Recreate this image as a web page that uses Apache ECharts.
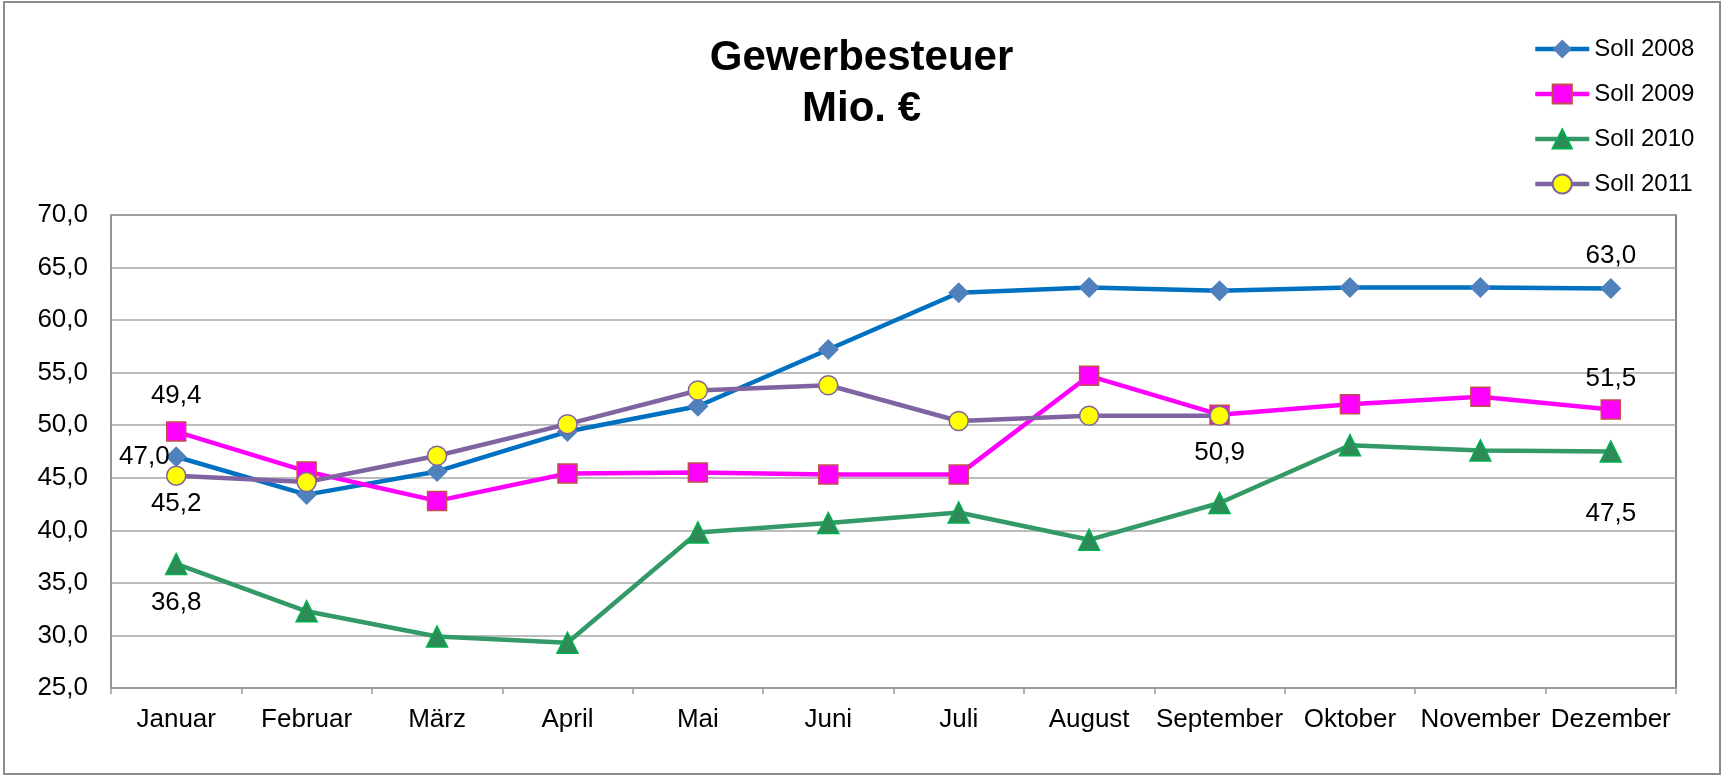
<!DOCTYPE html>
<html>
<head>
<meta charset="utf-8">
<title>Gewerbesteuer</title>
<script src="https://cdn.jsdelivr.net/npm/echarts@6/dist/echarts.min.js"></script>
<style>
  html, body { margin: 0; padding: 0; background: #fff; }
  #main { width: 1723px; height: 778px; }
</style>
</head>
<body>
<div id="main"></div>
<script>
// Monate
var months = ["Januar", "Februar", "März", "April", "Mai", "Juni", "Juli",
  "August", "September", "Oktober", "November", "Dezember"];

// Soll-Werte, Mio. €
var soll2008 = [47.0, 43.4, 45.6, 49.4, 51.8, 57.2, 62.6, 63.1, 62.8, 63.1, 63.1, 63.0];
var soll2009 = [49.4, 45.6, 42.8, 45.4, 45.5, 45.3, 45.3, 54.7, 51.0, 52.0, 52.7, 51.5];
var soll2010 = [36.8, 32.3, 29.9, 29.3, 39.8, 40.7, 41.7, 39.1, 42.6, 48.1, 47.6, 47.5];
var soll2011 = [45.2, 44.6, 47.1, 50.1, 53.3, 53.8, 50.4, 50.9, 50.9, null, null, null];

var yTicks = { min: 25, max: 70, interval: 5 };

var font = "'Liberation Sans', Arial, sans-serif";

function deNum(v) {
  return Number(v).toFixed(1).replace(".", ",");
}

// welche Punkte eine Beschriftung haben (Index -> Lage)
function withLabels(arr, labels) {
  return arr.map(function (v, i) {
    if (labels[i] && v != null) {
      return { value: v, label: Object.assign({ show: true }, labels[i]) };
    }
    return v;
  });
}

var lbl = {
  color: "#000",
  fontSize: 26,
  fontFamily: font,
  formatter: function (p) { return deNum(p.value); }
};

var chart = echarts.init(document.getElementById("main"));

chart.setOption({
  animation: false,
  backgroundColor: "#fff",
  textStyle: { fontFamily: font },
  graphic: [{
    type: "rect",
    shape: { x: 4, y: 2, width: 1716, height: 772 },
    style: { fill: "none", stroke: "#8c8c8c", lineWidth: 2 },
    silent: true
  }],
  title: {
    text: "Gewerbesteuer\nMio. €",
    left: "center",
    top: 28,
    textStyle: {
      fontSize: 42,
      fontWeight: "bold",
      lineHeight: 51,
      color: "#000",
      fontFamily: font
    }
  },
  legend: {
    orient: "vertical",
    left: 1528,
    top: 32,
    itemWidth: 54,
    itemHeight: 24,
    itemGap: 21,
    lineStyle: { width: 4.5 },
    textStyle: { fontSize: 24, color: "#000", fontFamily: font }
  },
  grid: {
    left: 111,
    right: 47,
    top: 215,
    bottom: 90,
    show: true,
    borderColor: "#595959",
    borderWidth: 1.5
  },
  xAxis: {
    type: "category",
    data: months,
    boundaryGap: true,
    axisLine: { lineStyle: { color: "#999", width: 1.5 } },
    axisTick: { show: true, length: 6, lineStyle: { color: "#999", width: 1.5 } },
    axisLabel: { color: "#000", fontSize: 26, margin: 19, interval: 0 }
  },
  yAxis: {
    type: "value",
    min: yTicks.min,
    max: yTicks.max,
    interval: yTicks.interval,
    axisLine: { show: true, lineStyle: { color: "#999", width: 1.5 } },
    axisTick: { show: false },
    splitLine: { lineStyle: { color: "#a6a6a6", width: 1.5 } },
    axisLabel: {
      color: "#000",
      fontSize: 26,
      margin: 23,
      formatter: function (v) { return deNum(v); }
    }
  },
  series: [
    {
      name: "Soll 2008",
      type: "line",
      data: withLabels(soll2008, {
        0: Object.assign({ position: "left", distance: -4 }, lbl),
        11: Object.assign({ position: "top", distance: 9 }, lbl)
      }),
      symbol: "diamond",
      symbolSize: 21,
      lineStyle: { color: "#0070c0", width: 4.5 },
      itemStyle: { color: "#4f81bd", borderWidth: 0 }
    },
    {
      name: "Soll 2009",
      type: "line",
      data: withLabels(soll2009, {
        0: Object.assign({ position: "top", distance: 12 }, lbl),
        11: Object.assign({ position: "top", distance: 7 }, lbl)
      }),
      symbol: "rect",
      symbolSize: 19,
      lineStyle: { color: "#ff00ff", width: 4.5 },
      itemStyle: { color: "#ff00ff", borderColor: "#c0504d", borderWidth: 1.5 }
    },
    {
      name: "Soll 2010",
      type: "line",
      data: withLabels(soll2010, {
        0: Object.assign({ position: "bottom", distance: 15 }, lbl),
        11: Object.assign({ position: "bottom", distance: 38 }, lbl)
      }),
      symbol: "triangle",
      symbolSize: 21,
      lineStyle: { color: "#339966", width: 4.5 },
      itemStyle: { color: "#2e8b57", borderColor: "#00b050", borderWidth: 1.5 }
    },
    {
      name: "Soll 2011",
      type: "line",
      data: withLabels(soll2011, {
        0: Object.assign({ position: "bottom", distance: 5 }, lbl),
        8: Object.assign({ position: "bottom", distance: 14 }, lbl)
      }),
      symbol: "circle",
      symbolSize: 19,
      lineStyle: { color: "#8064a2", width: 4.5 },
      itemStyle: { color: "#ffff00", borderColor: "#8064a2", borderWidth: 1.5 }
    }
  ]
});
</script>
</body>
</html>
